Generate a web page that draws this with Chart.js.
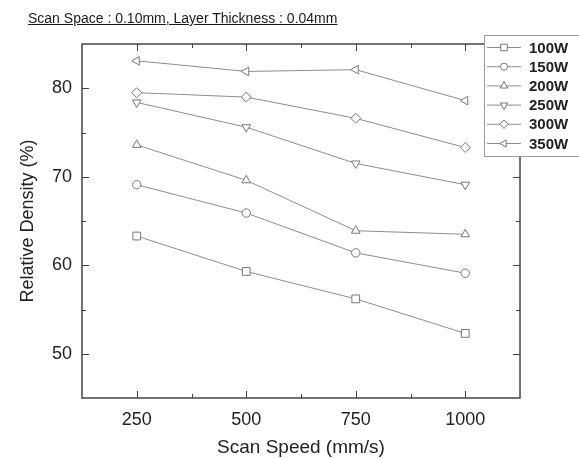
<!DOCTYPE html>
<html>
<head>
<meta charset="utf-8">
<script src="https://cdn.jsdelivr.net/npm/chart.js@4.4.1/dist/chart.umd.min.js"></script>
<style>
  body { margin: 0; background: #fff; }
  #wrap { position: relative; width: 579px; height: 459px; }
  #ttl {
    position: absolute; left: 28px; top: 10px;
    font: 14px "Liberation Sans", Arial, sans-serif;
    color: #1a1a1a; text-decoration: underline;
  }
</style>
</head>
<body>
<div id="wrap">
  <div id="ttl">Scan Space : 0.10mm, Layer Thickness : 0.04mm</div>
  <canvas id="myChart" width="579" height="459"></canvas>
</div>
<script>
(function () {

    // scan speed (mm/s)
    const speeds = [250, 500, 750, 1000];

    // relative density (%) per laser power
    const w100 = [63.3, 59.3, 56.2, 52.3];
    const w150 = [69.1, 65.9, 61.4, 59.1];
    const w200 = [73.6, 69.6, 63.9, 63.5];
    const w250 = [78.4, 75.6, 71.5, 69.1];
    const w300 = [79.5, 79.0, 76.6, 73.3];
    const w350 = [83.1, 81.9, 82.1, 78.6];

    const seriesLabels = ['100W', '150W', '200W', '250W', '300W', '350W'];
    const xTicks = [250, 500, 750, 1000];
    const xMinor = [375, 625, 875];
    const yTicks = [50, 60, 70, 80];
    const yMinor = [55, 65, 75];

    const markers = [
        { style: 'rect', rot: 0, r: 5.5 },
        { style: 'circle', rot: 0, r: 4.2 },
        { style: 'triangle', rot: 0, r: 5 },
        { style: 'triangle', rot: 180, r: 5 },
        { style: 'rectRot', rot: 0, r: 5 },
        { style: 'triangle', rot: 270, r: 5 }
    ];

    const font = 'Liberation Sans, Arial, sans-serif';
    const lineCol = '#8c8c8c';
    const axisCol = '#444';

    let makeSet = function (label, vals, i) {
        return {
            label: label,
            data: vals.map((v, k) => ({ x: speeds[k], y: v })),
            borderColor: lineCol,
            borderWidth: 1,
            fill: false,
            tension: 0,
            pointStyle: markers[i].style,
            rotation: markers[i].rot,
            pointRadius: markers[i].r,
            pointBorderWidth: 1,
            pointBorderColor: '#777',
            pointBackgroundColor: '#fff'
        };
    };

    const allVals = [w100, w150, w200, w250, w300, w350];
    let datasets = allVals.map((v, i) => makeSet(seriesLabels[i], v, i));

    // box, inward ticks and legend
    let framePlugin = {
        id: 'frame',
        afterDatasetsDraw(chart) {
            const ctx = chart.ctx;
            const a = chart.chartArea;
            const xs = chart.scales.x, ys = chart.scales.y;
            ctx.save();
            ctx.strokeStyle = axisCol;
            ctx.lineWidth = 1.5;
            ctx.strokeRect(a.left, a.top, a.right - a.left, a.bottom - a.top);
            ctx.lineWidth = 1;
            let tick = function (vals, len, horiz) {
                vals.forEach(v => {
                    ctx.beginPath();
                    if (horiz) {
                        const px = Math.round(xs.getPixelForValue(v)) + 0.5;
                        ctx.moveTo(px, a.bottom); ctx.lineTo(px, a.bottom - len);
                        ctx.moveTo(px, a.top); ctx.lineTo(px, a.top + len);
                    } else {
                        const py = Math.round(ys.getPixelForValue(v)) + 0.5;
                        ctx.moveTo(a.left, py); ctx.lineTo(a.left + len, py);
                        ctx.moveTo(a.right, py); ctx.lineTo(a.right - len, py);
                    }
                    ctx.stroke();
                });
            };
            tick(xTicks, 7, true);
            tick(xMinor, 4, true);
            tick(yTicks, 7, false);
            tick(yMinor, 4, false);

            // legend
            const lx = 484, ly = 35, rowH = 19.2;
            ctx.fillStyle = '#fff';
            ctx.fillRect(lx, ly, 110, 121);
            ctx.strokeStyle = '#999';
            ctx.strokeRect(lx + 0.5, ly + 0.5, 110, 121);
            chart.data.datasets.forEach((ds, i) => {
                const cy = ly + 12.5 + i * rowH;
                ctx.strokeStyle = lineCol;
                ctx.beginPath();
                ctx.moveTo(487, cy); ctx.lineTo(521, cy);
                ctx.stroke();
                ctx.fillStyle = '#fff';
                ctx.strokeStyle = '#777';
                Chart.helpers.drawPoint(ctx, {
                    pointStyle: ds.pointStyle, rotation: ds.rotation,
                    radius: ds.pointRadius * 0.85, borderWidth: 1
                }, 504, cy);
                ctx.fillStyle = '#222';
                ctx.font = 'bold 15px ' + font;
                ctx.textBaseline = 'middle';
                ctx.fillText(ds.label, 529, cy + 1);
            });
            ctx.restore();
        }
    };

    const ctx = document.getElementById('myChart');
    new Chart(ctx, {
        type: 'line',
        data: { datasets: datasets },
        plugins: [framePlugin],
        options: {
            animation: false,
            responsive: false,
            layout: { padding: { left: 0, top: 44, right: 59, bottom: 0 } },
            plugins: { legend: { display: false }, tooltip: { enabled: false } },
            scales: {
                x: {
                    type: 'linear',
                    min: 125,
                    max: 1125,
                    afterBuildTicks: s => { s.ticks = xTicks.map(v => ({ value: v })); },
                    afterFit: s => { s.height = 61; },
                    grid: { display: false, drawTicks: false },
                    border: { display: false },
                    ticks: {
                        padding: 11, color: '#222', font: { family: font, size: 18 },
                        callback: v => String(v)
                    },
                    title: {
                        display: true, text: 'Scan Speed (mm/s)', color: '#222',
                        font: { family: font, size: 19 }, padding: { top: 0, bottom: 0 }
                    }
                },
                y: {
                    min: 45,
                    max: 85,
                    afterBuildTicks: s => { s.ticks = yTicks.map(v => ({ value: v })); },
                    afterFit: s => { s.width = 82; },
                    grid: { display: false, drawTicks: false },
                    border: { display: false },
                    ticks: {
                        padding: 10, color: '#222', font: { family: font, size: 18 },
                        callback: v => String(v)
                    },
                    title: {
                        display: true, text: 'Relative Density (%)', color: '#222',
                        font: { family: font, size: 18 }, padding: { top: 17, bottom: 0 }
                    }
                }
            }
        }
    });

})();
</script>
</body>
</html>
